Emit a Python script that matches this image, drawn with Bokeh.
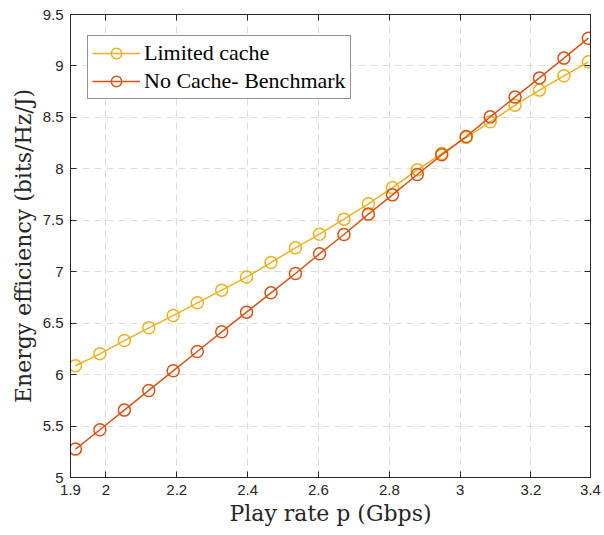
from bokeh.plotting import figure
from bokeh.models import (ColumnDataSource, FixedTicker, LinearAxis, Legend, LegendItem, Range1d,
                          CustomLabelingPolicy)
from bokeh.embed import file_html
from bokeh.resources import INLINE

# Data
play_rate = [1.914, 1.983, 2.052, 2.121, 2.190, 2.258, 2.327, 2.397, 2.466, 2.535, 2.603,
             2.672, 2.741, 2.809, 2.879, 2.948, 3.017, 3.085, 3.155, 3.224, 3.293, 3.362]
limited_cache = [6.086, 6.202, 6.331, 6.455, 6.574, 6.698, 6.821, 6.948, 7.089, 7.232, 7.365,
                 7.511, 7.660, 7.818, 7.990, 8.149, 8.304, 8.457, 8.619, 8.765, 8.904, 9.040]
no_cache = [5.276, 5.464, 5.655, 5.846, 6.037, 6.225, 6.416, 6.607, 6.795, 6.983, 7.174,
            7.362, 7.560, 7.747, 7.945, 8.136, 8.314, 8.505, 8.697, 8.884, 9.076, 9.270]

x_ticks = [1.9, 2.0, 2.2, 2.4, 2.6, 2.8, 3.0, 3.2, 3.368]
x_tick_labels = ["1.9", "2", "2.2", "2.4", "2.6", "2.8", "3", "3.2", "3.4"]
y_ticks = [5, 5.5, 6, 6.5, 7, 7.5, 8, 8.5, 9, 9.5]
y_tick_labels = ["5", "5.5", "6", "6.5", "7", "7.5", "8", "8.5", "9", "9.5"]

YELLOW = "#EDB120"
RED = "#D95319"
AX = "#262626"

p = figure(width=604, height=535, frame_width=520, frame_height=463,
           x_range=Range1d(1.9, 3.368), y_range=Range1d(5, 9.5),
           output_backend="svg", toolbar_location=None,
           min_border_left=70, min_border_right=14, min_border_top=14, min_border_bottom=58)
p.background_fill_color = "white"
p.border_fill_color = "white"
p.outline_line_color = AX
p.outline_line_width = 1

src = ColumnDataSource(dict(x=play_rate, a=limited_cache, b=no_cache))
l1 = p.line("x", "a", source=src, line_color=YELLOW, line_width=1.5)
s1 = p.scatter("x", "a", source=src, marker="circle", size=12, fill_color=None,
               line_color=YELLOW, line_width=1.5)
l2 = p.line("x", "b", source=src, line_color=RED, line_width=1.5)
s2 = p.scatter("x", "b", source=src, marker="circle", size=12, fill_color=None,
               line_color=RED, line_width=1.5)

xt = FixedTicker(ticks=x_ticks)
yt = FixedTicker(ticks=y_ticks)

def style_axis(ax, ticker, labels, show):
    ax.ticker = ticker
    ax.axis_line_color = AX
    ax.major_tick_line_color = AX
    ax.major_tick_in = 6
    ax.major_tick_out = 0
    ax.minor_tick_line_color = None
    ax.major_label_text_color = AX
    if show:
        ax.major_label_overrides = {t: l for t, l in zip(ticker.ticks, labels)}
        ax.major_label_text_font = "Liberation Sans"
        ax.major_label_text_font_size = "15px"
        ax.major_label_standoff = 7
    else:
        ax.major_label_policy = CustomLabelingPolicy(
            code="return new indices.constructor(indices.size)")
        ax.major_label_standoff = 0

style_axis(p.xaxis[0], xt, x_tick_labels, True)
style_axis(p.yaxis[0], yt, y_tick_labels, True)

p.xaxis.axis_label = "Play rate p (Gbps)"
p.yaxis.axis_label = "Energy efficiency (bits/Hz/J)"
for ax in (p.xaxis[0], p.yaxis[0]):
    ax.axis_label_text_font = "DejaVu Serif"
    ax.axis_label_text_font_size = "22px"
    ax.axis_label_text_font_style = "normal"
    ax.axis_label_text_color = AX
p.xaxis[0].axis_label_standoff = 3
p.yaxis[0].axis_label_standoff = 4

top = LinearAxis()
right = LinearAxis()
style_axis(top, xt, x_tick_labels, False)
style_axis(right, yt, y_tick_labels, False)
p.add_layout(top, "above")
p.add_layout(right, "right")

for g in (p.xgrid[0], p.ygrid[0]):
    g.grid_line_color = "#dcdcdc"
    g.grid_line_dash = "7 5"
    g.grid_line_width = 1
p.xgrid[0].ticker = xt
p.ygrid[0].ticker = yt

legend = Legend(items=[LegendItem(label="Limited cache", renderers=[l1, s1]),
                       LegendItem(label="No Cache- Benchmark", renderers=[l2, s2])],
                location=(17, 378))
legend.border_line_color = AX
legend.border_line_width = 1
legend.background_fill_color = "white"
legend.background_fill_alpha = 1
legend.label_text_font = "Liberation Serif"
legend.label_text_font_size = "22px"
legend.label_text_color = "black"
legend.glyph_width = 48
legend.glyph_height = 26
legend.label_height = 26
legend.label_standoff = 4
legend.padding = 4
legend.spacing = 2
legend.margin = 0
p.add_layout(legend, "center")

open("out.html", "w").write(file_html(p, INLINE))
